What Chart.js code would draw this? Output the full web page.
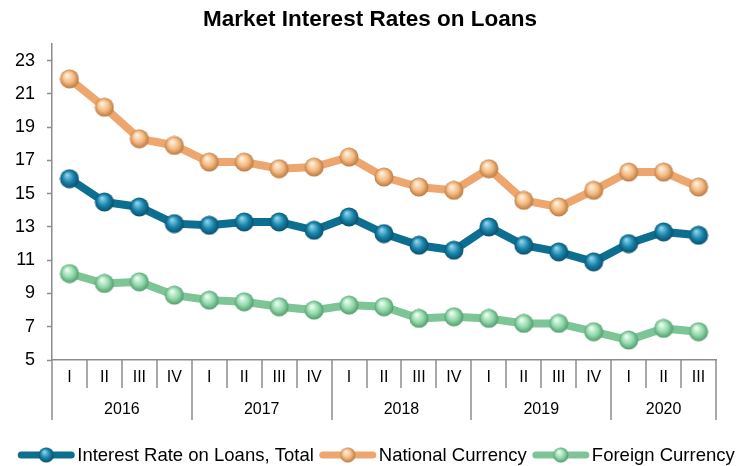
<!DOCTYPE html>
<html>
<head>
<meta charset="utf-8">
<script src="https://cdn.jsdelivr.net/npm/chart.js@4.4.1/dist/chart.umd.min.js"></script>
<style>
  html, body { margin: 0; padding: 0; background: #fff; }
  #wrap { width: 752px; height: 466px; }
</style>
</head>
<body>
<div id="wrap"><canvas id="rates"></canvas></div>
<script>
// data
const quarters = ["I", "II", "III", "IV", "I", "II", "III", "IV", "I", "II", "III", "IV", "I", "II", "III", "IV", "I", "II", "III"];
const years = ["2016", "2017", "2018", "2019", "2020"];
const yearSpans = [4, 4, 4, 4, 3];
const totalRate = [15.9, 14.5, 14.2, 13.2, 13.1, 13.3, 13.3, 12.8, 13.6, 12.6, 11.9, 11.6, 13.0, 11.9, 11.5, 10.9, 12.0, 12.7, 12.5];
const nationalRate = [21.9, 20.2, 18.3, 17.9, 16.9, 16.9, 16.5, 16.6, 17.2, 16.0, 15.4, 15.2, 16.5, 14.6, 14.2, 15.2, 16.3, 16.3, 15.4];
const foreignRate = [10.2, 9.6, 9.7, 8.9, 8.6, 8.5, 8.2, 8.0, 8.3, 8.2, 7.5, 7.6, 7.5, 7.2, 7.2, 6.7, 6.2, 6.9, 6.7];
const yTicks = [5, 7, 9, 11, 13, 15, 17, 19, 21, 23];

const axisColor = "#8c8c8c";
const baseFont = "'Liberation Sans', Arial, sans-serif";

// shaded "ball" used as point marker
function makeBall(size, light, base, dark) {
    const c = document.createElement("canvas");
    c.width = c.height = size;
    const g = c.getContext("2d");
    const r = size / 2;
    const grad = g.createRadialGradient(r * 0.75, r * 0.6, r * 0.05, r, r, r);
    grad.addColorStop(0, light);
    grad.addColorStop(0.55, base);
    grad.addColorStop(1, dark);
    g.fillStyle = grad;
    g.beginPath();
    g.arc(r, r, r - 0.5, 0, Math.PI * 2);
    g.fill();
    return c;
}

const series = [
    { label: "Interest Rate on Loans, Total", data: totalRate, line: "#0d6f8f", ball: makeBall(20, "#8fd6ee", "#1783ab", "#094a63") },
    { label: "National Currency", data: nationalRate, line: "#eca66e", ball: makeBall(20, "#fff3e2", "#f4b97f", "#b5743b") },
    { label: "Foreign Currency", data: foreignRate, line: "#7dc496", ball: makeBall(20, "#eefff4", "#92d9aa", "#4b9668") }
];

// two-level category axis: quarter separators + year groups
const groupedAxis = {
    id: "groupedAxis",
    afterDraw(chart) {
        const ctx = chart.ctx;
        const xs = chart.scales.x;
        const top = xs.top;
        let yearBounds = [0];
        yearSpans.forEach(n => yearBounds.push(yearBounds[yearBounds.length - 1] + n));

        ctx.save();
        ctx.strokeStyle = axisColor;
        ctx.lineWidth = 1.5;
        for (let i = 0; i <= quarters.length; i++) {
            const bx = Math.round(xs.getPixelForValue(i - 0.5));
            const long = yearBounds.includes(i);
            ctx.beginPath();
            ctx.moveTo(bx, top);
            ctx.lineTo(bx, top + (long ? 60 : 28));
            ctx.stroke();
        }

        ctx.fillStyle = "#000";
        ctx.textAlign = "center";
        ctx.textBaseline = "middle";
        ctx.font = "16px " + baseFont;
        quarters.forEach((q, i) => {
            ctx.fillText(q, xs.getPixelForValue(i), top + 18);
        });
        years.forEach((y, k) => {
            const a = xs.getPixelForValue(yearBounds[k] - 0.5);
            const b = xs.getPixelForValue(yearBounds[k + 1] - 0.5);
            ctx.fillText(y, (a + b) / 2, top + 50);
        });
        ctx.restore();
    }
};

// legend drawn by hand: line + ball icon, text right after it
const lineLegend = {
    id: "lineLegend",
    afterDraw(chart) {
        const ctx = chart.ctx;
        const iconW = 58, gap = 2, itemGap = 5;
        const y = 455;
        ctx.save();
        ctx.font = "18.5px " + baseFont;
        const widths = series.map(s => ctx.measureText(s.label).width);
        let total = widths.reduce((a, w) => a + iconW + gap + w, 0) + itemGap * (series.length - 1);
        let x = chart.width / 2 - total / 2;
        series.forEach((s, i) => {
            ctx.strokeStyle = s.line;
            ctx.lineWidth = 7;
            ctx.lineCap = "round";
            ctx.beginPath();
            ctx.moveTo(x + 4, y);
            ctx.lineTo(x + iconW - 4, y);
            ctx.stroke();
            ctx.drawImage(s.ball, x + iconW / 2 - 8, y - 8, 16, 16);
            ctx.fillStyle = "#000";
            ctx.textAlign = "left";
            ctx.textBaseline = "middle";
            ctx.fillText(s.label, x + iconW + gap, y + 1);
            x += iconW + gap + widths[i] + itemGap;
        });
        ctx.restore();
    }
};

const ctx = document.getElementById("rates").getContext("2d");
new Chart(ctx, {
    type: "line",
    data: {
        labels: quarters,
        datasets: series.map(s => ({
            label: s.label,
            data: s.data,
            borderColor: s.line,
            backgroundColor: s.line,
            borderWidth: 8,
            fill: false,
            tension: 0,
            pointStyle: s.ball,
            pointRadius: 9,
            pointHoverRadius: 9
        }))
    },
    options: {
        responsive: true,
        maintainAspectRatio: false,
        animation: false,
        layout: {
            padding: { left: 0, right: 12, top: 0, bottom: 35 }
        },
        scales: {
            x: {
                offset: true,
                grid: { display: false, offset: true },
                border: { display: true, color: axisColor, width: 1.5 },
                ticks: { display: false },
                afterFit(scale) { scale.height = 71; }
            },
            y: {
                min: 5,
                max: 24,
                afterBuildTicks(scale) {
                    scale.ticks = yTicks.map(v => ({ value: v }));
                },
                ticks: {
                    color: "#000",
                    padding: 12,
                    font: { size: 18, family: baseFont }
                },
                grid: {
                    drawOnChartArea: false,
                    drawTicks: true,
                    tickLength: 5,
                    tickWidth: 1.5,
                    color: axisColor
                },
                border: { display: true, color: axisColor, width: 1.5 },
                afterFit(scale) { scale.width = 52; }
            },
            // empty right-hand spacer so the title centres like the reference
            spacer: {
                position: "right",
                display: true,
                grid: { display: false },
                border: { display: false },
                ticks: { display: false },
                afterFit(scale) { scale.width = 24; }
            }
        },
        plugins: {
            title: {
                display: true,
                text: "Market Interest Rates on Loans",
                color: "#000",
                font: { size: 22.5, weight: "bold", family: baseFont },
                padding: { top: 6, bottom: 11 }
            },
            legend: { display: false },
            tooltip: { enabled: false }
        }
    },
    plugins: [groupedAxis, lineLegend]
});
</script>
</body>
</html>
